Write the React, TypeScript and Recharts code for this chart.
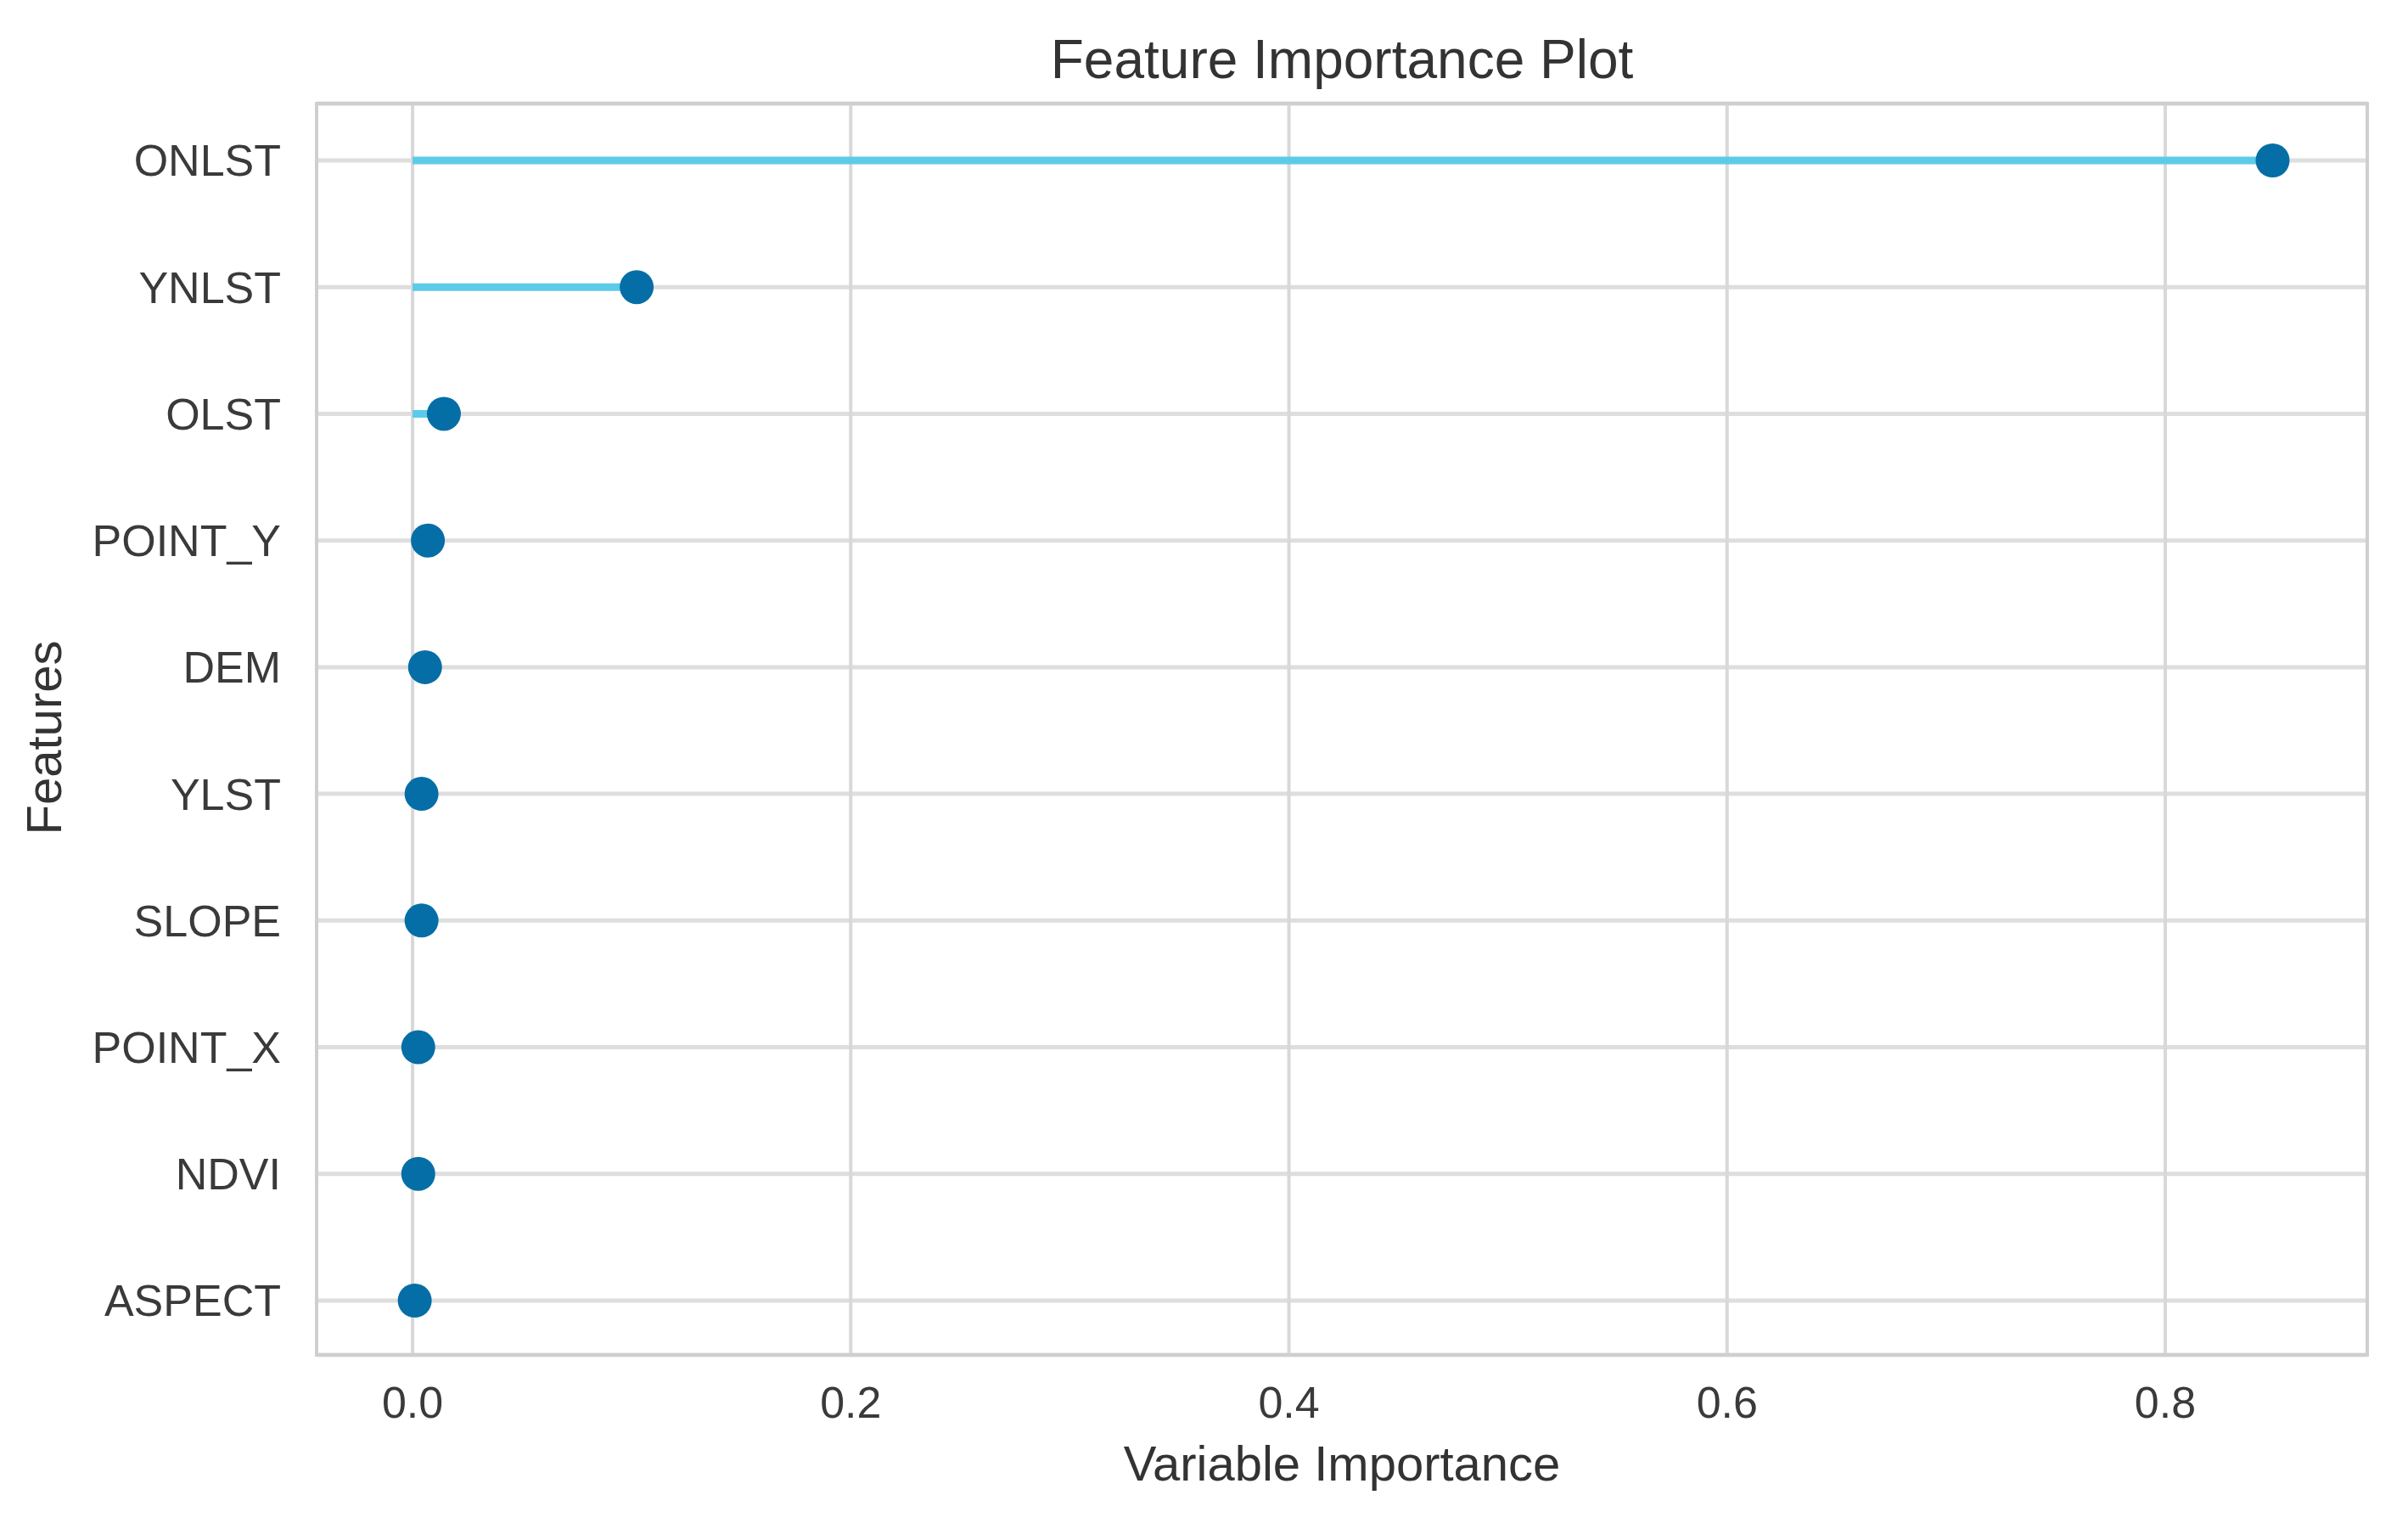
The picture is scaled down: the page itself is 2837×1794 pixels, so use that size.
import React from 'react';
import {
  ScatterChart,
  Scatter,
  XAxis,
  YAxis,
  CartesianGrid,
  ReferenceLine,
  ReferenceArea,
  Label,
} from 'recharts';

const features = ['ONLST', 'YNLST', 'OLST', 'POINT_Y', 'DEM', 'YLST', 'SLOPE', 'POINT_X', 'NDVI', 'ASPECT'];
const importance = [0.849, 0.1023, 0.0143, 0.007, 0.0057, 0.0041, 0.0041, 0.0026, 0.0026, 0.001];
const xTicks = [0, 0.2, 0.4, 0.6, 0.8];
const yTicks = features.map((_, i) => i);

const data = features.map((f, i) => ({ feature: f, idx: i, value: importance[i] }));

const X_DOMAIN: [number, number] = [-0.0438, 0.8922];
const Y_DOMAIN: [number, number] = [-0.449, 9.429];

const FONT = '"Liberation Sans", Arial, Helvetica, sans-serif';
const STICK = '#5ccbea';
const DOT = '#066ea6';

const W = 2837;
const H = 1794;

const DotShape = (p: any) => <circle cx={p.cx} cy={p.cy} r={20} fill={DOT} />;

const FeaturesLabel = (props: any) => {
  const vb = props.viewBox || {};
  const x = (vb.x || 0) + 51;
  const y = (vb.y || 0) + (vb.height || 0) / 2 + 10;
  return (
    <text
      x={x}
      y={y}
      transform={`rotate(-90, ${x}, ${y})`}
      textAnchor="middle"
      dominantBaseline="central"
      fontSize={58}
      fontFamily={FONT}
      fill="#333"
    >
      Features
    </text>
  );
};

export default function App() {
  return (
    <div style={{ position: 'absolute', left: 0, top: 0, width: W, height: H, background: '#fff' }}>
      <ScatterChart
        width={W}
        height={H}
        margin={{ top: 122, right: 48, bottom: 0, left: 0 }}
        style={{ fontFamily: FONT }}
      >
        <CartesianGrid horizontal={true} vertical={false} stroke="#dedede" strokeWidth={5} />
        <CartesianGrid horizontal={false} vertical={true} stroke="#d8d8d8" strokeWidth={4} />
        <XAxis
          type="number"
          dataKey="value"
          domain={X_DOMAIN}
          allowDataOverflow
          ticks={xTicks}
          tickFormatter={(v: number) => v.toFixed(1)}
          tickLine={false}
          axisLine={false}
          tickSize={0}
          tickMargin={37}
          height={198}
          tick={{ fontSize: 52, fill: '#3a3a3a', fontFamily: FONT }}
          interval={0}
        />
        <YAxis
          type="number"
          dataKey="idx"
          domain={Y_DOMAIN}
          allowDataOverflow
          reversed
          ticks={yTicks}
          tickFormatter={(v: number) => features[v] ?? ''}
          tickLine={false}
          axisLine={false}
          tickSize={0}
          tickMargin={42}
          width={373}
          interval={0}
          tick={{ fontSize: 52, fill: '#3a3a3a', fontFamily: FONT }}
        >
          <Label content={<FeaturesLabel />} />
        </YAxis>
        <ReferenceArea
          x1={X_DOMAIN[0]}
          x2={X_DOMAIN[1]}
          y1={Y_DOMAIN[0]}
          y2={Y_DOMAIN[1]}
          fill="none"
          fillOpacity={0}
          stroke="#cfcfcf"
          strokeWidth={4}
          ifOverflow="visible"
        >
          <Label
            value="Feature Importance Plot"
            position="top"
            offset={30}
            fontSize={64}
            fill="#333"
            fontFamily={FONT}
          />
          <Label
            value="Variable Importance"
            position="bottom"
            offset={107}
            fontSize={58}
            fill="#333"
            fontFamily={FONT}
          />
        </ReferenceArea>
        {data.map((d) => (
          <ReferenceLine
            key={d.feature}
            segment={[
              { x: 0, y: d.idx },
              { x: d.value, y: d.idx },
            ]}
            stroke={STICK}
            strokeWidth={9}
            ifOverflow="visible"
          />
        ))}
        <Scatter data={data} dataKey="value" shape={DotShape} isAnimationActive={false} />
      </ScatterChart>
    </div>
  );
}
